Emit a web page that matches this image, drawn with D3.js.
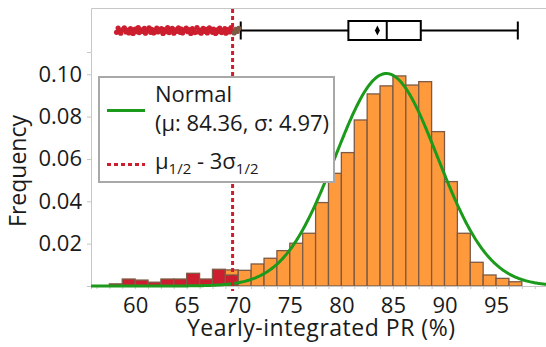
<!DOCTYPE html>
<html>
<head>
<meta charset="utf-8">
<script src="https://cdn.jsdelivr.net/npm/d3@7"></script>
<style>
  body { margin: 0; background: #fff; }
  text { font-family: "Open Sans", "Noto Sans", sans-serif; fill: #1a1a1a; }
</style>
</head>
<body>
<div id="chart"></div>
<script>
// histogram bins (left edges, % PR), width 1.25
const binStarts = [57.5, 58.75, 60, 61.25, 62.5, 63.75, 65, 66.25, 67.5, 68.75,
  70, 71.25, 72.5, 73.75, 75, 76.25, 77.5, 78.75, 80, 81.25, 82.5, 83.75,
  85, 86.25, 87.5, 88.75, 90, 91.25, 92.5, 93.75, 95, 96.25];
const binWidth = 1.25;
// frequency of values below threshold (red)
const lowFreq = [0.0010, 0.0033, 0.0028, 0.0018, 0.0033, 0.0033, 0.0060, 0.0033, 0.0079, 0.0052,
  0, 0, 0, 0, 0, 0, 0, 0, 0, 0, 0, 0, 0, 0, 0, 0, 0, 0, 0, 0, 0, 0];
// frequency of values above threshold (orange)
const highFreq = [0, 0, 0, 0, 0, 0, 0, 0, 0, 0.0024,
  0.0074, 0.0104, 0.0131, 0.0167, 0.0202, 0.0249, 0.0394, 0.0532, 0.0630, 0.0784, 0.0907, 0.0945,
  0.0992, 0.0949, 0.0965, 0.0729, 0.0493, 0.0249, 0.0112, 0.0052, 0.0036, 0.0020];

const mu = 84.36, sigma = 4.97;
const threshold = 69.45;

const xTicks = [60, 65, 70, 75, 80, 85, 90, 95];
const yTicks = [0.02, 0.04, 0.06, 0.08, 0.10];

// box plot summary
const whiskerLow = 70.24, q1 = 80.68, median = 84.40, q3 = 87.70, whiskerHigh = 97.11, meanPR = 83.49;
// outliers below lower fence, with vertical jitter (-1..1)
const outlierPR = [58.2, 58.35, 58.5, 58.6, 58.8, 58.95, 59.1, 59.2, 59.4, 59.55,
  59.7, 59.8, 60.0, 60.15, 60.3, 60.4, 60.6, 60.75, 60.9, 61.0,
  61.2, 61.35, 61.5, 61.6, 61.8, 61.95, 62.1, 62.2, 62.4, 62.55,
  62.7, 62.8, 63.0, 63.15, 63.3, 63.4, 63.6, 63.75, 63.9, 64.0,
  64.2, 64.35, 64.5, 64.6, 64.8, 64.95, 65.1, 65.2, 65.4, 65.55,
  65.7, 65.8, 66.0, 66.15, 66.3, 66.4, 66.6, 66.75, 66.9, 67.0,
  67.2, 67.35, 67.5, 67.6, 67.8, 67.95, 68.1, 68.2, 68.4, 68.55,
  68.7, 68.8, 69.0, 69.15, 69.3, 69.4, 69.6, 69.75, 69.9, 70.05];
const outlierJitter = [0.6, -0.8, 0.1, 0.9, -0.3, -0.9, 0.5, -0.1, 0.8, -0.6,
  0.2, 1.0, -0.5, 0.4, -1.0, 0.7, -0.2, 0.3, -0.7, 0.9,
  0.0, -0.9, 0.6, -0.4, 0.8, -0.1, -0.8, 0.5, 0.2, -0.6,
  1.0, -0.3, 0.4, -1.0, 0.7, 0.1, -0.7, 0.9, -0.2, 0.3,
  -0.9, 0.6, -0.5, 0.8, 0.0, -0.8, 0.4, -0.3, 1.0, -0.6,
  0.2, 0.7, -1.0, 0.5, -0.1, 0.9, -0.7, 0.3, -0.4, 0.8,
  -0.9, 0.1, 0.6, -0.5, 1.0, -0.2, 0.4, -0.8, 0.7, 0.0,
  -0.6, 0.9, -0.3, 0.5, -1.0, 0.2, 0.8, -0.4, 0.3, -0.7];

const red = "#cc1e2e", orange = "#ff9a3c", edge = "#7d5a44", green = "#1c9a1c", grid = "#c6c6c6";

const width = 546, height = 347;
const plotLeft = 91, plotRight = 547, plotBottom = 286, plotTop = 52, boxTop = 8, boxMid = 30.5;

const svg = d3.select("#chart").append("svg")
  .attr("width", width)
  .attr("height", height);

const x = d3.scaleLinear().domain([55.72, 99.94]).range([plotLeft, plotRight]);
const y = d3.scaleLinear().domain([0, 0.1105]).range([plotBottom, plotTop]);

// box panel frame
svg.append("path")
  .attr("d", `M${plotRight},${boxTop + 0.5}H${plotLeft + 0.5}V${plotTop}`)
  .attr("fill", "none").attr("stroke", grid);

// bars
const bars = svg.append("g");
binStarts.forEach(function(b, i) {
  const x0 = x(b), x1 = x(b + binWidth);
  if (lowFreq[i] > 0) {
    bars.append("rect")
      .attr("x", x0).attr("width", x1 - x0)
      .attr("y", y(lowFreq[i])).attr("height", y(0) - y(lowFreq[i]))
      .attr("fill", red).attr("stroke", edge).attr("stroke-width", 1.3);
  }
  if (highFreq[i] > 0) {
    const base = lowFreq[i], topV = lowFreq[i] + highFreq[i];
    bars.append("rect")
      .attr("x", x0).attr("width", x1 - x0)
      .attr("y", y(topV)).attr("height", y(base) - y(topV))
      .attr("fill", orange).attr("stroke", edge).attr("stroke-width", 1.3);
  }
});

// axes
const xMinor = d3.range(56.25, 99.9, binWidth);
svg.append("g")
  .attr("transform", `translate(0,${plotBottom})`)
  .call(d3.axisBottom(x).tickValues(xMinor).tickSize(3).tickFormat(""))
  .call(g => g.selectAll("line, path").attr("stroke", grid));

svg.append("g")
  .attr("transform", `translate(0,${plotBottom})`)
  .call(d3.axisBottom(x).tickValues(xTicks).tickSize(0).tickFormat(d3.format("d")))
  .call(g => g.select(".domain").remove())
  .call(g => g.selectAll("text").attr("dy", null).attr("y", 27)
    .attr("font-size", 22).attr("font-family", null));

svg.append("g")
  .attr("transform", `translate(${plotLeft},0)`)
  .call(d3.axisLeft(y).tickValues([0].concat(yTicks)).tickSize(4).tickPadding(5)
    .tickFormat(d => d === 0 ? "" : d3.format(".2f")(d)))
  .call(g => g.selectAll("line, path").attr("stroke", grid))
  .call(g => g.selectAll("text").attr("font-size", 22).attr("font-family", null));

// axis titles
svg.append("text")
  .attr("x", 321).attr("y", 336)
  .attr("text-anchor", "middle").attr("font-size", 23)
  .attr("textLength", 268).attr("lengthAdjust", "spacing")
  .text("Yearly-integrated PR (%)");

svg.append("text")
  .attr("transform", "translate(26,171) rotate(-90)")
  .attr("text-anchor", "middle").attr("font-size", 23)
  .text("Frequency");

// normal fit, scaled to bin width
const pdf = v => binWidth * Math.exp(-0.5 * ((v - mu) / sigma) ** 2) / (sigma * Math.sqrt(2 * Math.PI));
svg.append("path")
  .datum(d3.range(55.72, 99.95, 0.1))
  .attr("fill", "none")
  .attr("stroke", green).attr("stroke-width", 3)
  .attr("d", d3.line().x(d => x(d)).y(d => y(pdf(d))));

// threshold line
svg.append("line")
  .attr("x1", x(threshold)).attr("x2", x(threshold))
  .attr("y1", boxTop + 1).attr("y2", plotBottom + 5)
  .attr("stroke", red).attr("stroke-width", 3).attr("stroke-dasharray", "4,3");

// box plot
const box = svg.append("g").attr("stroke", "#000").attr("stroke-width", 2).attr("fill", "none");
box.append("line").attr("x1", x(whiskerLow)).attr("x2", x(q1)).attr("y1", boxMid).attr("y2", boxMid);
box.append("line").attr("x1", x(q3)).attr("x2", x(whiskerHigh)).attr("y1", boxMid).attr("y2", boxMid);
[whiskerLow, whiskerHigh].forEach(function(w) {
  box.append("line").attr("x1", x(w)).attr("x2", x(w)).attr("y1", boxMid - 9).attr("y2", boxMid + 9);
});
box.append("rect").attr("x", x(q1)).attr("width", x(q3) - x(q1))
  .attr("y", boxMid - 9.5).attr("height", 19).attr("fill", "#fff");
box.append("line").attr("x1", x(median)).attr("x2", x(median)).attr("y1", boxMid - 9.5).attr("y2", boxMid + 9.5);
svg.append("path")
  .attr("d", `M${x(meanPR)},${boxMid - 5}l2.5,5l-2.5,5l-2.5,-5z`)
  .attr("fill", "#000");

svg.append("g").selectAll("circle")
  .data(outlierPR)
  .join("circle")
  .attr("cx", d => x(d))
  .attr("cy", (d, i) => boxMid + 3 * (outlierJitter[i] || 0))
  .attr("r", 2.6)
  .attr("fill", d => d < threshold ? red : edge);

// legend
const lg = svg.append("g");
lg.append("rect")
  .attr("x", 99).attr("y", 77).attr("width", 235).attr("height", 105)
  .attr("fill", "#fff").attr("stroke", "#a8a8a8").attr("stroke-width", 2);
lg.append("line").attr("x1", 107).attr("x2", 145).attr("y1", 110.5).attr("y2", 110.5)
  .attr("stroke", green).attr("stroke-width", 3);
lg.append("text").attr("x", 155).attr("y", 102).attr("font-size", 22).text("Normal");
lg.append("text").attr("x", 155).attr("y", 131).attr("font-size", 22).text("(μ: 84.36, σ: 4.97)");
lg.append("line").attr("x1", 107).attr("x2", 145).attr("y1", 164.5).attr("y2", 164.5)
  .attr("stroke", red).attr("stroke-width", 3).attr("stroke-dasharray", "4,3");
const lab = lg.append("text").attr("x", 155).attr("y", 169).attr("font-size", 22);
lab.append("tspan").text("μ");
lab.append("tspan").attr("dy", 5).attr("font-size", 15).text("1/2");
lab.append("tspan").attr("dy", -5).text(" - 3σ");
lab.append("tspan").attr("dy", 5).attr("font-size", 15).text("1/2");
</script>
</body>
</html>
